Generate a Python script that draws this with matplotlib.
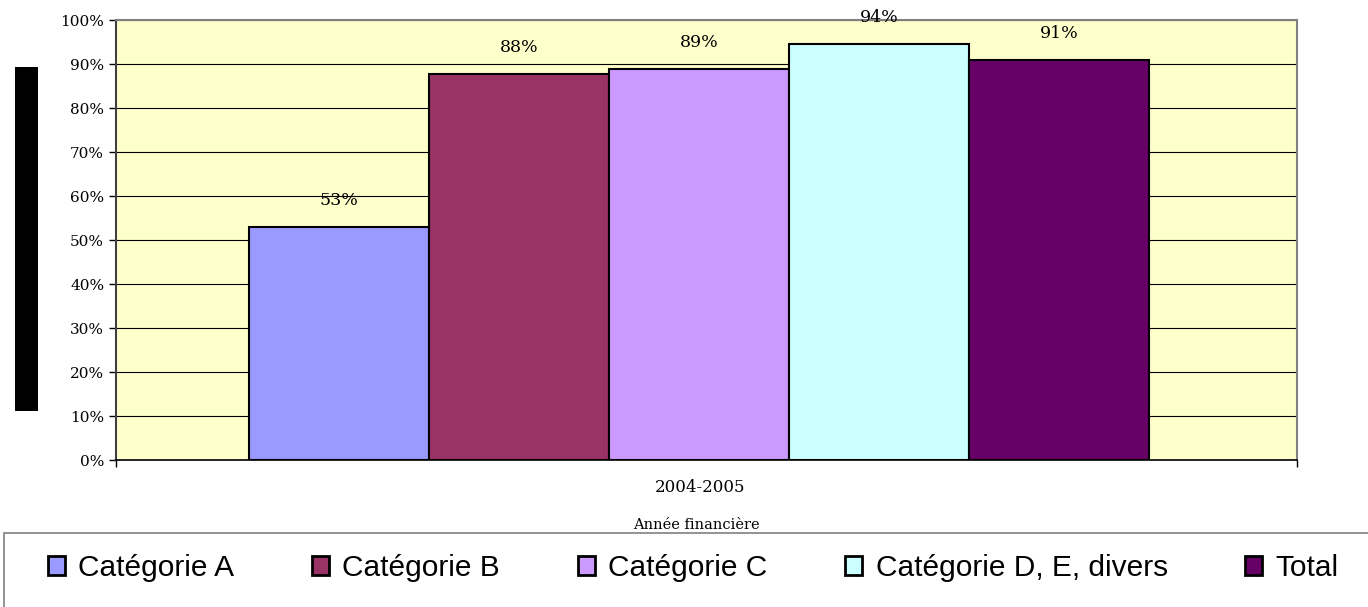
import matplotlib.pyplot as plt
from matplotlib.patches import Patch, Rectangle
from matplotlib.ticker import PercentFormatter

categories = ['Catégorie A', 'Catégorie B', 'Catégorie C', 'Catégorie D, E, divers', 'Total']
values = [53.0, 87.7, 88.9, 94.5, 90.9]
labels = ['53%', '88%', '89%', '94%', '91%']
colors = ['#9999FF', '#993366', '#CC99FF', '#CCFFFF', '#660066']
year = '2004-2005'

fig = plt.figure(figsize=(13.68, 6.07), dpi=100)
ax = fig.add_axes([116/1368, 147/607, 1181/1368, 440/607])
ax.set_facecolor('#FFFFCC')

x = list(range(len(values)))
ax.bar(x, values, width=1.0, color=colors, edgecolor='black', linewidth=1.5, zorder=3)
for xi, v, lab in zip(x, values, labels):
    ax.annotate(lab, (xi, v), xytext=(0, 19), textcoords='offset points',
                ha='center', va='center', fontsize=12.5, family='DejaVu Serif')

ax.set_ylim(0, 100)
ax.set_xlim(-1.239, 5.322)
ax.set_yticks(range(0, 101, 10))
ax.yaxis.set_major_formatter(PercentFormatter(decimals=0))
ax.grid(axis='y', color='black', linewidth=0.8, zorder=1)
ax.set_xticks([-1.239, 5.322])
ax.set_xticklabels(['', ''])
ax.tick_params(axis='both', direction='out', length=5, width=1, labelsize=11)
for t in ax.get_yticklabels():
    t.set_family('DejaVu Serif')
ax.spines['top'].set_color('#808080')
ax.spines['right'].set_color('#808080')
ax.spines['top'].set_linewidth(1.5)
ax.spines['right'].set_linewidth(1.5)
ax.spines['left'].set_color('#404040')
ax.spines['left'].set_linewidth(1.5)
ax.spines['bottom'].set_linewidth(1.2)

fig.text(700/1368, 1 - 488/607, year, ha='center', va='center', fontsize=12, family='DejaVu Serif')
fig.text(696/1368, 1 - 525/607, 'Année financière', ha='center', va='center', fontsize=10.5, family='DejaVu Serif')

# black bar on the left
fig.patches.append(Rectangle((15/1368, 196/607), 23/1368, 344/607, transform=fig.transFigure,
                             facecolor='black', edgecolor='none'))
# legend frame
fig.patches.append(Rectangle((4/1368, -0.01), 1.0, 74/607 + 0.01, transform=fig.transFigure,
                             facecolor='white', edgecolor='#808080', linewidth=1.2))

handles = [Patch(facecolor=c, edgecolor='black', linewidth=2) for c in colors]
fig.legend(handles, categories, loc='center left', bbox_to_anchor=(21/1368, 39/607), ncol=5,
           frameon=False, prop={'family': 'Liberation Sans', 'size': 21.5},
           handlelength=0.57, handleheight=0.57, handletextpad=0.45, columnspacing=2.6)

fig.savefig('out.png', dpi=100)
